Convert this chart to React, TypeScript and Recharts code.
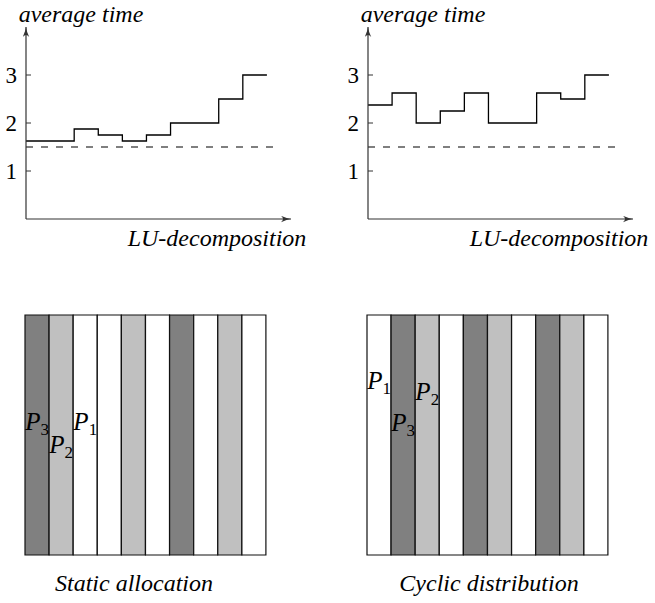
import React from "react";
import { LineChart, Line, XAxis, YAxis, ReferenceLine, BarChart, Bar, Cell, ReferenceDot } from "recharts";

// step heights for the two LU runs (one value per block)
const luStatic = [1.625, 1.625, 1.875, 1.75, 1.625, 1.75, 2, 2, 2.5, 3];
const luCyclic = [2.375, 2.625, 2, 2.25, 2.625, 2, 2, 2.625, 2.5, 3];
const optimum = 1.5;
const yTicks = [1, 2, 3];

// owner processor of each column block
const staticOwners = [3, 2, 1, 1, 2, 1, 3, 1, 2, 1];
const cyclicOwners = [1, 3, 2, 1, 3, 2, 1, 3, 2, 1];

const staticLabels = [
  { col: 0, y: 0.52, p: 3 },
  { col: 1, y: 0.425, p: 2 },
  { col: 2, y: 0.52, p: 1 },
];
const cyclicLabels = [
  { col: 0, y: 0.69, p: 1 },
  { col: 2, y: 0.645, p: 2 },
  { col: 1, y: 0.518, p: 3 },
];

const FILL: Record<number, string> = { 1: "#ffffff", 2: "#c0c0c0", 3: "#808080" };
const SERIF = "Liberation Serif";
const AXIS = "#333";

// no letterSpacing / textLength: extra spacing made the browser fall back to a sans font
const roman = { fontFamily: SERIF, fontStyle: "normal" };
const italic = { fontFamily: SERIF, fontStyle: "italic" };

function YTick(props: any) {
  const { x, y, payload } = props;
  return (
    <g>
      <line x1={x + 9} x2={x + 14} y1={y} y2={y} stroke={AXIS} strokeWidth={1} />
      <text x={x} y={y} dy="0.35em" textAnchor="end" fontFamily={SERIF} style={roman} fontSize={23} fill="#000">
        {payload.value}
      </text>
    </g>
  );
}

function TimePanel({ left, values }: { left: number; values: number[] }) {
  const data = values.map((t, i) => ({ x: i, t }));
  data.push({ x: values.length, t: values[values.length - 1] });
  return (
    <div style={{ position: "absolute", left, top: 0, width: 320, height: 260 }}>
      <LineChart width={320} height={260} data={data} margin={{ top: 27, right: 29, bottom: 40, left: 0 }}>
        <XAxis
          type="number"
          dataKey="x"
          domain={[0, 11]}
          ticks={[]}
          tick={false}
          tickLine={false}
          height={1}
          axisLine={{ stroke: AXIS, strokeWidth: 1.2, markerEnd: "url(#arrowHead)" }}
        />
        <YAxis
          type="number"
          domain={[0, 4]}
          ticks={yTicks}
          width={26}
          tickSize={0}
          tickMargin={9}
          tickLine={false}
          tick={<YTick />}
          axisLine={{ stroke: AXIS, strokeWidth: 1.2, markerStart: "url(#arrowHead)" }}
        />
        <ReferenceLine
          segment={[{ x: 0, y: optimum }, { x: 10.5, y: optimum }]}
          stroke="#000"
          strokeWidth={1.2}
          strokeDasharray="7 8"
        />
        <Line type="stepAfter" dataKey="t" stroke="#000" strokeWidth={1.3} dot={false} isAnimationActive={false} />
      </LineChart>
      <svg width={340} height={260} style={{ position: "absolute", left: 0, top: 0, pointerEvents: "none", overflow: "visible" }}>
        <text x={81} y={22} textAnchor="middle" fontFamily={SERIF} style={italic} fontSize={24}>
          average time
        </text>
        <text x={217} y={246} textAnchor="middle" fontFamily={SERIF} style={italic} fontSize={24}>
          LU-decomposition
        </text>
      </svg>
    </div>
  );
}

function PLabel({ cx, cy, p }: { cx: number; cy: number; p: number }) {
  return (
    <text x={cx} y={cy} textAnchor="middle" fontFamily={SERIF} style={roman} fontSize={25} fill="#000">
      <tspan style={italic}>P</tspan>
      <tspan fontSize={17} dy={5}>{p}</tspan>
    </text>
  );
}

function StripPanel({
  left,
  owners,
  labels,
  caption,
  captionX,
}: {
  left: number;
  owners: number[];
  labels: { col: number; y: number; p: number }[];
  caption: string;
  captionX: number;
}) {
  const data = owners.map((p, i) => ({ col: String(i), h: 1, p }));
  return (
    <div style={{ position: "absolute", left, top: 300, width: 300, height: 303 }}>
      <BarChart width={300} height={303} data={data} margin={{ top: 15, right: 34, bottom: 48, left: 25 }} barCategoryGap={0} barGap={0}>
        <XAxis dataKey="col" hide />
        <YAxis type="number" domain={[0, 1]} hide />
        <Bar dataKey="h" stroke="#111" strokeWidth={1.2} isAnimationActive={false}>
          {data.map((d, i) => (
            <Cell key={i} fill={FILL[d.p]} />
          ))}
        </Bar>
        {labels.map((l) => (
          <ReferenceDot
            key={l.p}
            x={String(l.col)}
            y={l.y}
            r={1}
            shape={(props: any) => <PLabel cx={props.cx} cy={props.cy} p={l.p} />}
          />
        ))}
      </BarChart>
      <svg width={300} height={303} style={{ position: "absolute", left: 0, top: 0, pointerEvents: "none" }}>
        <text x={captionX} y={291} textAnchor="middle" fontFamily={SERIF} style={italic} fontSize={24}>
          {caption}
        </text>
      </svg>
    </div>
  );
}

export default function App() {
  return (
    <div
      style={{
        position: "absolute",
        left: 0,
        top: 0,
        width: 655,
        height: 603,
        background: "#fff",
        overflow: "hidden",
        fontFamily: SERIF,
      }}
    >
      <svg width={0} height={0} style={{ position: "absolute" }}>
        <defs>
          <marker
            id="arrowHead"
            viewBox="0 0 10 7"
            refX={10}
            refY={3.5}
            markerWidth={10}
            markerHeight={7}
            markerUnits="userSpaceOnUse"
            orient="auto-start-reverse"
          >
            <path d="M0,0.3 Q6,3 10,3.5 Q6,4 0,6.7 Q4,3.5 0,0.3 Z" fill={AXIS} />
          </marker>
        </defs>
      </svg>
      <TimePanel left={0} values={luStatic} />
      <TimePanel left={342} values={luCyclic} />
      <StripPanel left={0} owners={staticOwners} labels={staticLabels} caption="Static allocation" captionX={134} />
      <StripPanel left={342} owners={cyclicOwners} labels={cyclicLabels} caption="Cyclic distribution" captionX={147} />
    </div>
  );
}
